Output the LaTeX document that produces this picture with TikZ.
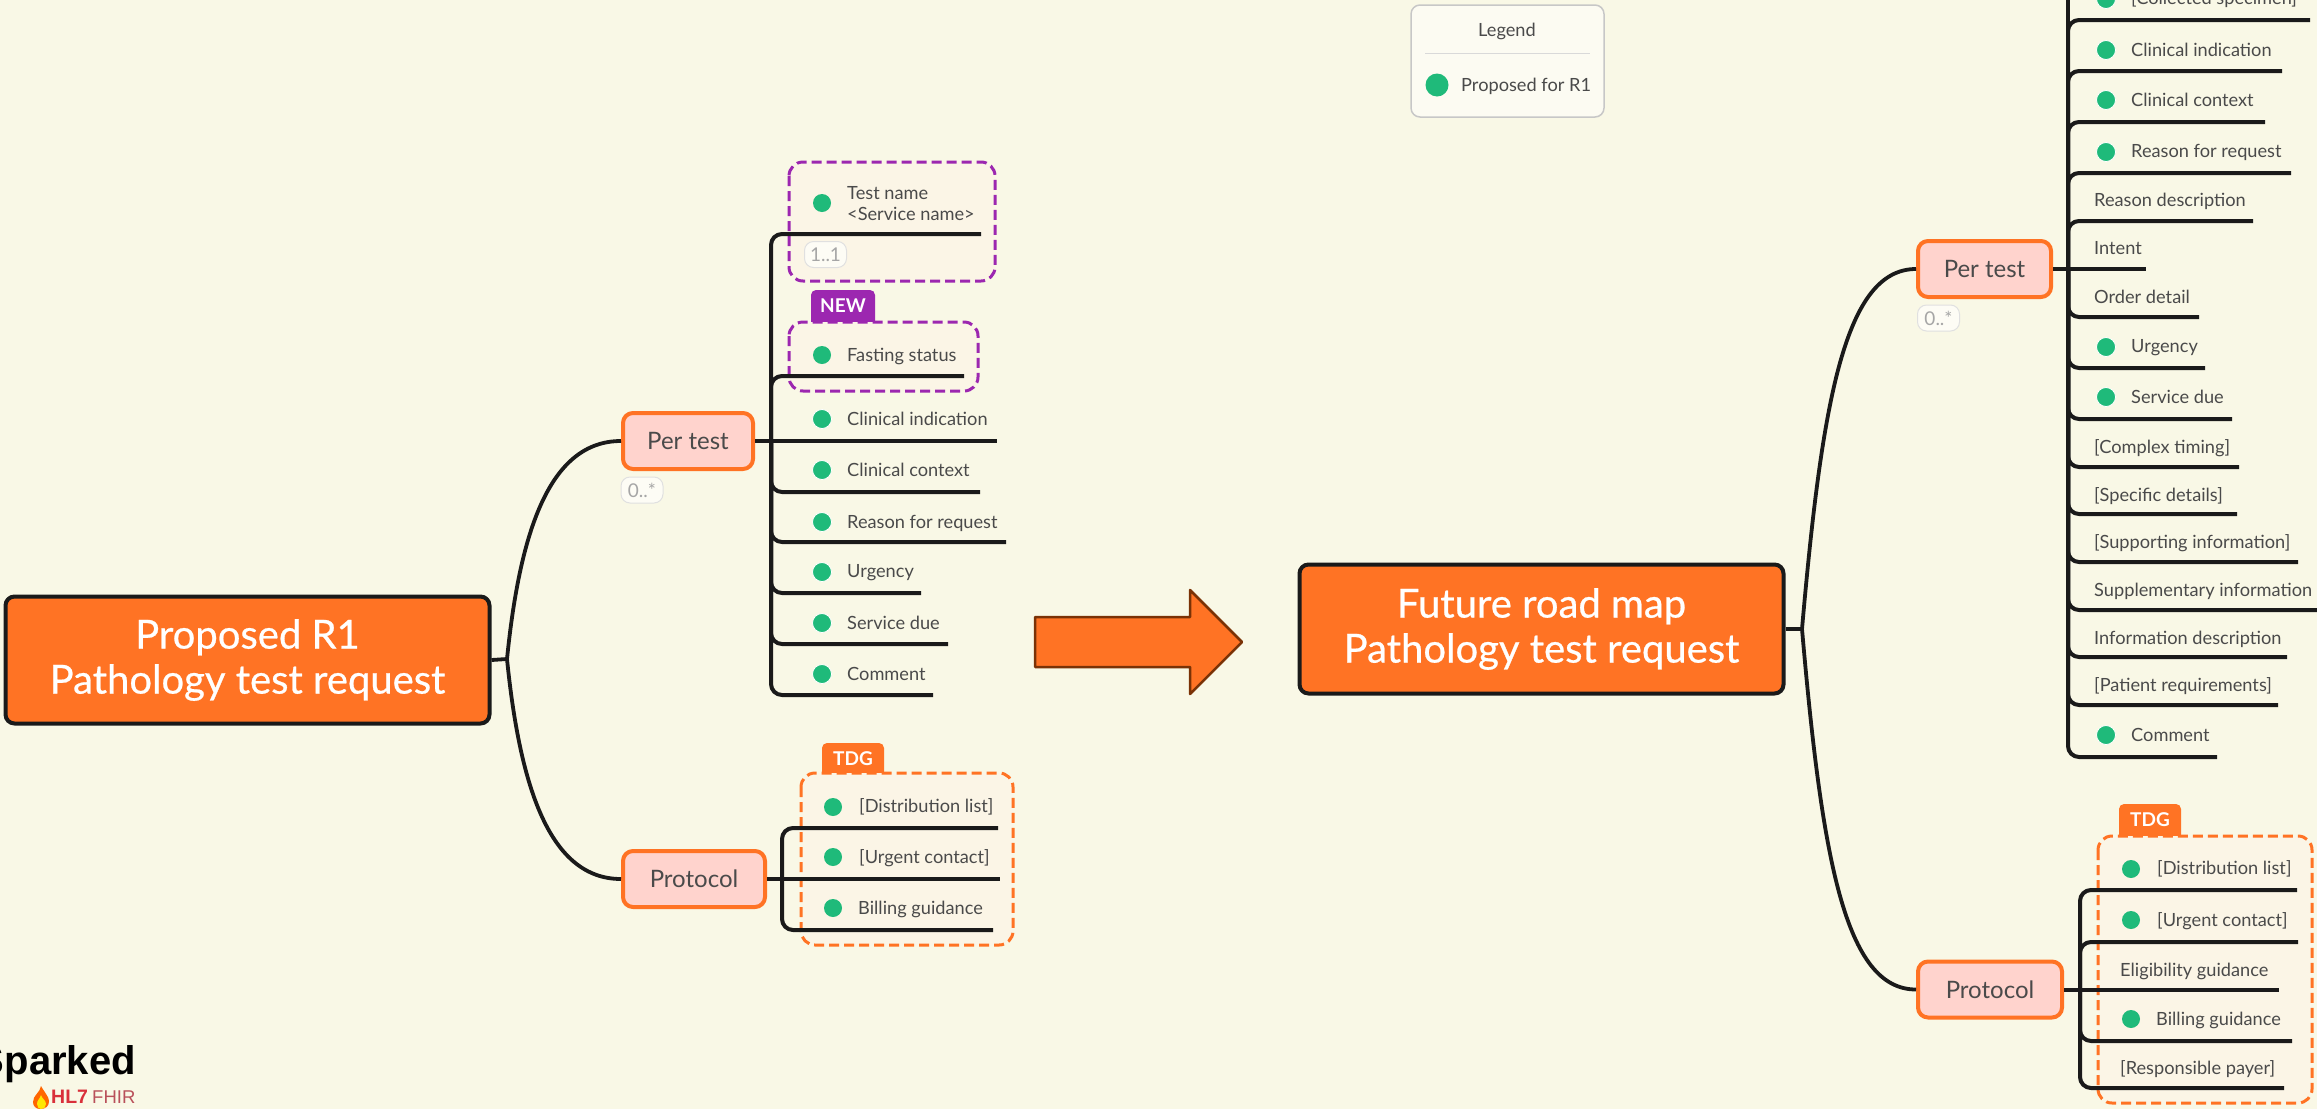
\documentclass[tikz,border=0pt]{standalone}
\usepackage{fontspec}
\setmainfont{Lato}
\newfontfamily\rootfont[FakeBold=0.6]{Lato}
\newfontfamily\logofont{Liberation Sans}
\definecolor{paper}{HTML}{F9F8E6}
\definecolor{tint}{HTML}{FBF5E6}
\definecolor{brand}{HTML}{FF7324}
\definecolor{rust}{HTML}{7A3206}
\definecolor{blush}{HTML}{FFD3CD}
\definecolor{ink}{HTML}{1A1A1A}
\definecolor{copy}{HTML}{4A4A4A}
\definecolor{mint}{HTML}{1FBA7A}
\definecolor{plum}{HTML}{9C27B0}
\definecolor{fhirred}{HTML}{D9303A}
\definecolor{fhirsoft}{HTML}{B9505A}
\tikzset{
    rootbox/.style={draw=ink, fill=brand, line width=4pt, rounded corners=9pt, text=white, align=center,
        minimum width=484pt, minimum height=127pt, font=\rootfont\fontsize{40}{45}\selectfont},
    topicbox/.style={draw=brand, fill=blush, line width=4pt, rounded corners=10pt, text=copy,
        minimum height=56pt, font=\fontsize{24}{28}\selectfont},
    leaf/.style={anchor=west, inner sep=0pt, text=copy, align=left, font=\fontsize{18.2}{21}\selectfont},
    dot/.style={circle, fill=mint, draw=white, line width=0.8pt, minimum size=19pt, inner sep=0pt},
    tintdot/.style={circle, fill=mint, minimum size=18pt, inner sep=0pt},
    badge/.style={draw=black!12, fill=white!60!paper, rounded corners=9pt, text=black!35, line width=1pt,
        minimum width=42pt, minimum height=26pt, inner sep=0pt, font=\fontsize{19}{22}\selectfont},
    trunk/.style={draw=ink, line width=3.8pt},
    branch/.style={draw=ink, line width=4pt, rounded corners=11pt},
    zone/.style={fill=tint, dashed, dash pattern=on 10pt off 5pt, line width=3pt, rounded corners=14pt},
    tagbox/.style={rounded corners=5pt, text=white, inner sep=0pt, font=\bfseries\fontsize{19}{22}\selectfont}
}
\begin{document}
\begin{tikzpicture}[line cap=butt, line join=round, x=1pt, y=-1pt]

    \fill[paper] (0,0) rectangle (2317,1109);
    \clip (0,0) rectangle (2317,1109);

    \node[tagbox, fill=plum, minimum width=64pt, minimum height=40pt, text depth=8pt] (newtag) at (843,310) {NEW};
    \node[tagbox, fill=brand, minimum width=62pt, minimum height=40pt, text depth=8pt] (tdgl) at (853,763) {TDG};
    \node[tagbox, fill=brand, minimum width=62pt, minimum height=40pt, text depth=8pt] (tdgr) at (2150,824) {TDG};

    \draw[zone, draw=plum] (789,162) rectangle (995,281);
    \draw[zone, draw=plum] (789,322) rectangle (978,391);
    \draw[zone, draw=brand] (801,773) rectangle (1013,945);
    \draw[zone, draw=brand] (2098,836) rectangle (2312,1103);

    \node[rootbox] (rootl) at (247.5,660) {Proposed R1\\Pathology test request};
    \node[rootbox, minimum height=129pt] (rootr) at (1541.5,629) {Future road map\\Pathology test request};

    \node[topicbox, minimum width=130pt] (perl) at (688,441) {Per test};
    \node[topicbox, minimum width=142pt] (protl) at (694,879) {Protocol};
    \node[topicbox, minimum width=133pt] (perr) at (1984.5,269) {Per test};
    \node[topicbox, minimum width=144pt] (protr) at (1990,989.5) {Protocol};

    \node[badge] (cardperl) at (642,490) {0..*};
    \node[badge] (cardname) at (825.5,254.5) {1..1};
    \node[badge] (cardperr) at (1938.5,318) {0..*};

    \coordinate (jointl) at (507,659);
    \coordinate (jointr) at (1802,629);
    \draw[trunk] (rootl.east) -- (jointl);
    \draw[trunk] (rootr.east) -- (jointr);
    \draw[trunk] (jointl) .. controls (520,530) and (550,441) .. (perl.west);
    \draw[trunk] (jointl) .. controls (520,788) and (550,879) .. (protl.west);
    \draw[trunk] (jointr) .. controls (1822,400) and (1845,269) .. (perr.west);
    \draw[trunk] (jointr) .. controls (1822,859) and (1845,989.5) .. (protr.west);

    \coordinate (spinel) at (771,441);
    \coordinate (spinep) at (782,879);
    \coordinate (spiner) at (2068,269);
    \coordinate (spineq) at (2080,989.5);

    \coordinate (tnend) at (981,234);
    \coordinate (fsend) at (964,376);
    \coordinate (ciend) at (997,441);
    \coordinate (ccend) at (980,492);
    \coordinate (rqend) at (1006,542);
    \coordinate (urend) at (921,593);
    \coordinate (sdend) at (948,644);
    \coordinate (coend) at (933,695);
    \draw[branch] (spinel) |- (tnend);
    \draw[branch] (spinel) |- (fsend);
    \draw[branch] (perl.east) -- (ciend);
    \draw[branch] (spinel) |- (ccend);
    \draw[branch] (spinel) |- (rqend);
    \draw[branch] (spinel) |- (urend);
    \draw[branch] (spinel) |- (sdend);
    \draw[branch] (spinel) |- (coend);

    \coordinate (dlend) at (998,828);
    \coordinate (ucend) at (1000,879);
    \coordinate (bgend) at (993,930);
    \draw[branch] (spinep) |- (dlend);
    \draw[branch] (protl.east) -- (ucend);
    \draw[branch] (spinep) |- (bgend);

    \coordinate (csend) at (2310,20);
    \coordinate (icend) at (2282,71);
    \coordinate (xcend) at (2265,122);
    \coordinate (xrend) at (2291,173);
    \coordinate (rdend) at (2253,221);
    \coordinate (inend) at (2146,269);
    \coordinate (odend) at (2199,317);
    \coordinate (xuend) at (2205,368);
    \coordinate (xsend) at (2232,419);
    \coordinate (ctend) at (2239,467);
    \coordinate (spend) at (2237,514);
    \coordinate (siend) at (2298,562);
    \coordinate (smend) at (2317,610);
    \coordinate (idend) at (2287,657);
    \coordinate (prend) at (2278,705);
    \coordinate (xoend) at (2217,757);
    \coordinate (spinetop) at (2068,-20);
    \draw[branch] (spiner) -- (spinetop);
    \draw[branch] (spiner) |- (csend);
    \draw[branch] (spiner) |- (icend);
    \draw[branch] (spiner) |- (xcend);
    \draw[branch] (spiner) |- (xrend);
    \draw[branch] (spiner) |- (rdend);
    \draw[branch] (perr.east) -- (inend);
    \draw[branch] (spiner) |- (odend);
    \draw[branch] (spiner) |- (xuend);
    \draw[branch] (spiner) |- (xsend);
    \draw[branch] (spiner) |- (ctend);
    \draw[branch] (spiner) |- (spend);
    \draw[branch] (spiner) |- (siend);
    \draw[branch] (spiner) |- (smend);
    \draw[branch] (spiner) |- (idend);
    \draw[branch] (spiner) |- (prend);
    \draw[branch] (spiner) |- (xoend);

    \coordinate (dqend) at (2297,890);
    \coordinate (uqend) at (2298,942);
    \coordinate (egend) at (2279,989.5);
    \coordinate (bqend) at (2292,1041);
    \coordinate (rpend) at (2284,1088);
    \draw[branch] (spineq) |- (dqend);
    \draw[branch] (spineq) |- (uqend);
    \draw[branch] (protr.east) -- (egend);
    \draw[branch] (spineq) |- (bqend);
    \draw[branch] (spineq) |- (rpend);

    \node[tintdot] (tndot) at (822,203) {};
    \node[leaf] (tn) at (847,204) {Test name\\<Service name>};
    \node[tintdot] (fsdot) at (822,355) {};
    \node[leaf] (fs) at (847,356) {Fasting status};
    \node[dot] (cidot) at (822,419) {};
    \node[leaf] (ci) at (847,419) {Clinical indication};
    \node[dot] (ccdot) at (822,470) {};
    \node[leaf] (cc) at (847,470) {Clinical context};
    \node[dot] (rqdot) at (822,522) {};
    \node[leaf] (rq) at (847,523) {Reason for request};
    \node[dot] (urdot) at (822,572) {};
    \node[leaf] (ur) at (847,573) {Urgency};
    \node[dot] (sddot) at (822,623) {};
    \node[leaf] (sd) at (847,623) {Service due};
    \node[dot] (codot) at (822,674) {};
    \node[leaf] (co) at (847,674) {Comment};

    \node[tintdot] (dldot) at (833,807) {};
    \node[leaf] (dl) at (859,807) {[Distribution list]};
    \node[tintdot] (ucdot) at (833,857) {};
    \node[leaf] (uc) at (859,858) {[Urgent contact]};
    \node[tintdot] (bgdot) at (833,908) {};
    \node[leaf] (bg) at (858,909) {Billing guidance};

    \node[dot] (csdot) at (2106,-1) {};
    \node[leaf] (cs) at (2131,-1) {[Collected specimen]};
    \node[dot] (icdot) at (2106,50) {};
    \node[leaf] (ic) at (2131,50) {Clinical indication};
    \node[dot] (xcdot) at (2106,100) {};
    \node[leaf] (xc) at (2131,100) {Clinical context};
    \node[dot] (xrdot) at (2106,152) {};
    \node[leaf] (xr) at (2131,152) {Reason for request};
    \node[leaf] (rd) at (2094,201) {Reason description};
    \node[leaf] (itn) at (2094,248) {Intent};
    \node[leaf] (od) at (2094,297) {Order detail};
    \node[dot] (xudot) at (2106,347) {};
    \node[leaf] (xu) at (2131,348) {Urgency};
    \node[dot] (xsdot) at (2106,397) {};
    \node[leaf] (xs) at (2131,397) {Service due};
    \node[leaf] (ct) at (2094,448) {[Complex timing]};
    \node[leaf] (sp) at (2094,496) {[Specific details]};
    \node[leaf] (si) at (2094,543) {[Supporting information]};
    \node[leaf] (sm) at (2094,591) {Supplementary information};
    \node[leaf] (id) at (2094,639) {Information description};
    \node[leaf] (pr) at (2094,686) {[Patient requirements]};
    \node[dot] (xodot) at (2106,735) {};
    \node[leaf] (xo) at (2131,735) {Comment};

    \node[tintdot] (dqdot) at (2131,869) {};
    \node[leaf] (dq) at (2157,869) {[Distribution list]};
    \node[tintdot] (uqdot) at (2131,920) {};
    \node[leaf] (uq) at (2157,921) {[Urgent contact]};
    \node[leaf] (eg) at (2120,971) {Eligibility guidance};
    \node[tintdot] (bqdot) at (2131,1019) {};
    \node[leaf] (bq) at (2156,1020) {Billing guidance};
    \node[leaf] (rp) at (2120,1069) {[Responsible payer]};

    \draw[draw=rust, fill=brand, line width=2.5pt, miter limit=10]
        (1035,617) -- (1190,617) -- (1190,590) -- (1242,642) -- (1190,694) -- (1190,667) -- (1035,667) -- cycle;

    \node[draw=black!22, fill=white!50!paper, rounded corners=9pt, line width=1.5pt,
        minimum width=193pt, minimum height=112pt] (legend) at (1507.5,61) {};
    \node[leaf, anchor=center] (legendtitle) at (1507,31) {Legend};
    \draw[black!15, line width=1pt] (1425,53) -- (1590,53);
    \node[tintdot, minimum size=23pt] (legenddot) at (1437,85) {};
    \node[leaf] (legendtext) at (1461,86) {Proposed for R1};

    \node[anchor=east, inner sep=0pt, font=\logofont\bfseries\fontsize{40}{42}\selectfont, text=black] (sparked) at (136,1064) {Sparked};
    \node[anchor=west, inner sep=0pt, font=\logofont\bfseries\fontsize{19.5}{22}\selectfont, text=fhirred] (hlseven) at (51,1097) {HL7};
    \node[anchor=west, inner sep=0pt, font=\logofont\fontsize{18.5}{22}\selectfont, text=fhirsoft] (fhir) at (92,1097) {FHIR};
    \fill[orange!80!red] (41,1086) .. controls (40,1093) and (33,1095) .. (33,1102) .. controls (33,1106) and (36,1109) .. (40,1109)
        .. controls (46,1109) and (49,1106) .. (49,1101) .. controls (49,1097) and (45,1093) .. (41,1086) -- cycle;
    \fill[yellow!90!orange] (41,1095) .. controls (40,1099) and (37,1100) .. (37,1104) .. controls (37,1107) and (39,1109) .. (41,1109)
        .. controls (44,1109) and (46,1107) .. (46,1104) .. controls (46,1100) and (42,1099) .. (41,1095) -- cycle;

\end{tikzpicture}
\end{document}
